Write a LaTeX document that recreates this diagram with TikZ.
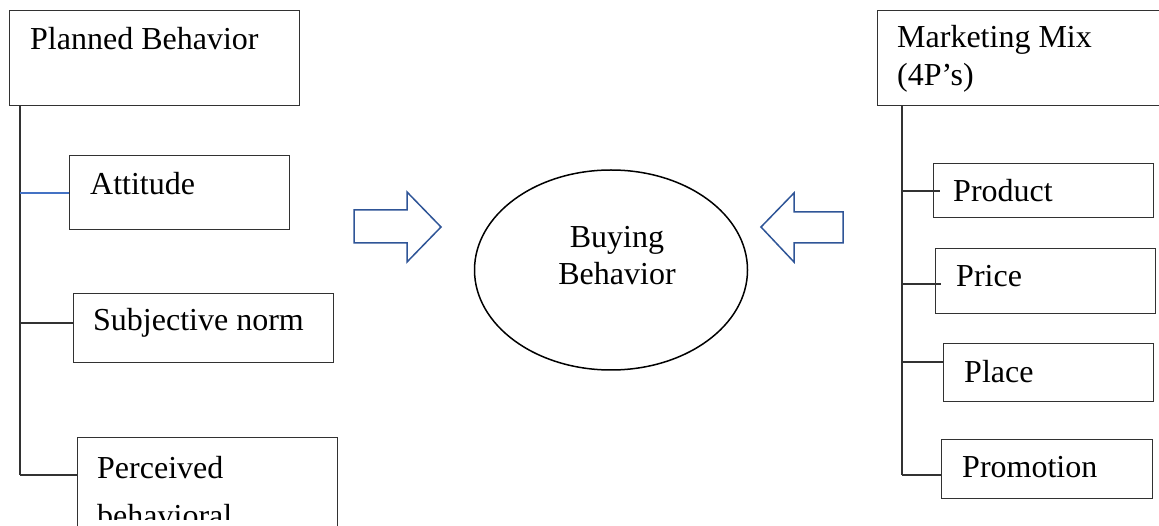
\documentclass[tikz,border=0pt]{standalone}
\usepackage{fontspec}
\setmainfont{Liberation Serif}
\usetikzlibrary{shapes.geometric}
\definecolor{boxgray}{RGB}{50,50,50}
\definecolor{arrowblue}{RGB}{47,85,151}
\definecolor{linkblue}{RGB}{68,114,196}
\begin{document}
\begin{tikzpicture}[x=1pt,y=-1pt,
  box/.style={draw=boxgray, line width=1.2pt, rectangle, anchor=north west, inner sep=0pt},
  lbl/.style={anchor=base west, inner sep=0pt, font=\fontsize{32}{37}\selectfont},
  link/.style={draw=boxgray, line width=1.2pt},
  fat/.style={draw=arrowblue, line width=1.5pt, line join=miter}]
\useasboundingbox (0,0) rectangle (1159,526);
\clip (0,0) rectangle (1159,526);
% left column
\node[box, minimum width=290pt, minimum height=95pt] (pb) at (9,10) {};
\node[lbl] (pbt) at (30,50) {Planned Behavior};
\node[box, minimum width=220pt, minimum height=74pt] (att) at (69,155) {};
\node[lbl] (attt) at (90,195) {Attitude};
\node[box, minimum width=260pt, minimum height=69pt] (sn) at (73,293) {};
\node[lbl] (snt) at (93,331) {Subjective norm};
\node[box, minimum width=260pt, minimum height=120pt] (pbc) at (77,437) {};
\node[lbl] (pbct1) at (97,478) {Perceived};
\begin{scope}
\clip (0,0) rectangle (1159,519);
\node[lbl] (pbct2) at (97,526) {behavioral};
\end{scope}
\coordinate (lbot) at (20,475);
\coordinate (la) at (20,193);
\coordinate (ls) at (20,323);
\draw[link] (pb.south -| lbot) -- (lbot);
\draw[draw=linkblue, line width=1.2pt] (la) -- (la -| att.west);
\draw[link] (ls) -- (ls -| sn.west);
\draw[link] (lbot) -- (lbot -| pbc.west);
% centre
\node[draw=black, line width=1.5pt, ellipse, minimum width=273pt, minimum height=200pt, inner sep=0pt] (bb) at (611,270) {};
\node[lbl, anchor=base] (bbt1) at (617,248) {Buying};
\node[lbl, anchor=base] (bbt2) at (617,285) {Behavior};
% block arrows
\draw[fat] (354,210) -- (407,210) -- (407,192) -- (441,227) -- (407,262) -- (407,243) -- (354,243) -- cycle;
\draw[fat] (843,212) -- (794,212) -- (794,193) -- (761,227) -- (794,262) -- (794,243) -- (843,243) -- cycle;
% right column
\node[box, minimum width=282pt, minimum height=95pt] (mm) at (877,10) {};
\node[lbl] (mmt1) at (897,48) {Marketing Mix};
\node[lbl] (mmt2) at (897,86) {(4P’s)};
\node[box, minimum width=220pt, minimum height=54pt] (prod) at (933,163) {};
\node[lbl] (prodt) at (953,202) {Product};
\node[box, minimum width=220pt, minimum height=65pt] (price) at (935,248) {};
\node[lbl] (pricet) at (956,287) {Price};
\node[box, minimum width=210pt, minimum height=58pt] (place) at (943,343) {};
\node[lbl] (placet) at (964,382) {Place};
\node[box, minimum width=211pt, minimum height=59pt] (promo) at (941,439) {};
\node[lbl] (promot) at (962,477) {Promotion};
\coordinate (rbot) at (902,475);
\coordinate (rp) at (902,191);
\coordinate (rpr) at (902,284);
\coordinate (rpl) at (902,362);
\draw[link] (mm.south -| rbot) -- (rbot);
\draw[link] (rp) -- ([xshift=7pt]rp -| prod.west);
\draw[link] (rpr) -- ([xshift=6pt]rpr -| price.west);
\draw[link] (rpl) -- (rpl -| place.west);
\draw[link] (rbot) -- (rbot -| promo.west);
\end{tikzpicture}
\end{document}
